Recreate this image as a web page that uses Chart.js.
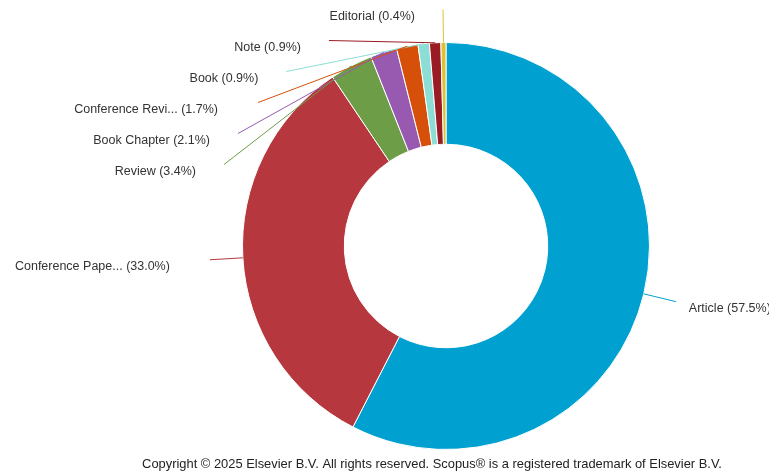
<!DOCTYPE html>
<html>
<head>
<meta charset="utf-8">
<title>Documents by type</title>
<script src="https://cdn.jsdelivr.net/npm/chart.js@4/dist/chart.umd.min.js"></script>
<style>
    html, body { margin: 0; padding: 0; background: #ffffff; }
    #typeChart { display: block; }
</style>
</head>
<body>
<canvas id="typeChart" width="769" height="473"></canvas>
<script>
// Document types (share of total, %)
const docTypes = ['Article', 'Conference Pape...', 'Review', 'Book Chapter', 'Conference Revi...', 'Book', 'Note', 'Editorial'];
const docShares = [57.5, 33.0, 3.4, 2.1, 1.7, 0.9, 0.9, 0.4];
const sliceColors = ['#00A0D0', '#B7373E', '#6E9D48', '#9859B0', '#D6500A', '#8BDDD5', '#9B1B24', '#DCC232'];

const copyrightText = 'Copyright \u00A9 2025 Elsevier B.V. All rights reserved. Scopus\u00AE is a registered trademark of Elsevier B.V.';
const labelFont = '12.5px "Liberation Sans", Arial, sans-serif';
const footerFont = '12.9px "Liberation Sans", Arial, sans-serif';

// Outside labels with connector lines, stacked on the left like Scopus does it
const pieLabels = {
    id: 'pieLabels',
    afterDatasetsDraw(chart) {
        const ctx = chart.ctx;
        const arcs = chart.getDatasetMeta(0).data;
        const spacing = 31;
        const minTop = 9;

        let left = [];
        let right = [];
        arcs.forEach((arc, i) => {
            const p = arc.getProps(['x', 'y', 'startAngle', 'endAngle', 'outerRadius'], true);
            const mid = (p.startAngle + p.endAngle) / 2;
            const ring = p.outerRadius + 33;
            const item = {
                i: i,
                cx: p.x,
                cy: p.y,
                ring: ring,
                ax: p.x + p.outerRadius * Math.cos(mid),
                ay: p.y + p.outerRadius * Math.sin(mid),
                y: p.y + ring * Math.sin(mid)
            };
            if (Math.cos(mid) >= 0) right.push(item); else left.push(item);
        });

        // push crowded labels down, top to bottom
        [left, right].forEach(side => {
            side.sort((a, b) => a.y - b.y);
            let prev = -Infinity;
            side.forEach(it => {
                it.y = Math.max(it.y, prev + spacing, minTop);
                prev = it.y;
            });
        });

        ctx.save();
        ctx.font = labelFont;
        ctx.fillStyle = '#333333';
        ctx.textBaseline = 'middle';
        ctx.lineWidth = 1;

        const drawOne = (it, dir) => {
            const dy = it.y - it.cy;
            const dx = Math.sqrt(Math.max(it.ring * it.ring - dy * dy, 0));
            const lx = it.cx + dir * dx;
            ctx.strokeStyle = sliceColors[it.i];
            ctx.beginPath();
            ctx.moveTo(it.ax, it.ay);
            ctx.lineTo(lx, it.y);
            ctx.stroke();

            const name = docTypes[it.i];
            const text = name + ' (' + docShares[it.i].toFixed(1) + '%)';
            // shortened names keep the full label box, so they sit further out
            const gap = name.endsWith('...') ? 40 : 28;
            if (dir < 0) {
                ctx.textAlign = 'right';
                ctx.fillText(text, lx - gap, it.y + 7);
            } else {
                ctx.textAlign = 'left';
                ctx.fillText(text, lx + 13, it.y + 7);
            }
        };
        left.forEach(it => drawOne(it, -1));
        right.forEach(it => drawOne(it, 1));

        // footer
        ctx.font = footerFont;
        ctx.textAlign = 'center';
        ctx.fillStyle = '#222222';
        ctx.fillText(copyrightText, 432, 464);
        ctx.restore();
    }
};

new Chart(document.getElementById('typeChart'), {
    type: 'doughnut',
    data: {
        labels: docTypes,
        datasets: [{
            data: docShares,
            backgroundColor: sliceColors,
            borderColor: '#ffffff',
            borderWidth: 1
        }]
    },
    options: {
        responsive: false,
        animation: false,
        cutout: '50%',
        layout: {
            padding: { left: 242, right: 119, top: 42, bottom: 23 }
        },
        plugins: {
            legend: { display: false },
            tooltip: { enabled: false }
        }
    },
    plugins: [pieLabels]
});
</script>
</body>
</html>
